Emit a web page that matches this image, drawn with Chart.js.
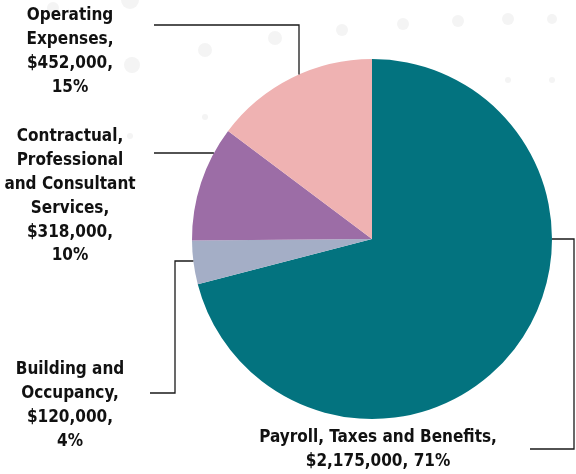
<!DOCTYPE html>
<html lang="en">
    <head>
        <meta charset="UTF-8" />
        <title>Budget Pie</title>
        <style>
            html, body {
                margin: 0;
                padding: 0;
                background: #ffffff;
            }
            .chartBox {
                width: 576px;
                height: 474px;
                position: relative;
            }
        </style>
    </head>
    <body>
        <div class="chartBox">
            <canvas id="pieChart"></canvas>
        </div>

        <script src="https://cdn.jsdelivr.net/npm/chart.js"></script>
        <script>
            // data
            const categories = [
                "Payroll, Taxes and Benefits",
                "Building and Occupancy",
                "Contractual, Professional and Consultant Services",
                "Operating Expenses",
            ];
            const amounts = [2175000, 120000, 318000, 452000];
            const percents = [71, 4, 10, 15];
            const sliceColors = ["#03737f", "#a4aec6", "#9c6da6", "#efb2b2"];

            // label text, one entry per line
            const labelLines = [
                ["Payroll, Taxes and Benefits,", "$2,175,000, 71%"],
                ["Building and", "Occupancy,", "$120,000,", "4%"],
                ["Contractual,", "Professional", "and Consultant", "Services,", "$318,000,", "10%"],
                ["Operating", "Expenses,", "$452,000,", "15%"],
            ];

            // where each label block sits (center x, first line y) and its leader line
            const labelSpots = [
                { x: 378, y: 438, path: [[530, 449], [574, 449], [574, 239]], end: "right" },
                { x: 70, y: 370, path: [[150, 393], [175, 393], [175, 261]], end: "left" },
                { x: 70, y: 137, path: [[154, 153]], end: "left" },
                { x: 70, y: 16, path: [[154, 25], [299, 25]], end: "down" },
            ];

            // faint background dots
            const bgDots = [
                [130, 0, 9], [53, 8, 6], [205, 50, 7], [275, 38, 7], [132, 65, 8],
                [205, 117, 3], [130, 136, 3], [342, 30, 6], [403, 24, 6],
                [458, 21, 6], [508, 19, 6], [552, 19, 5], [508, 80, 3], [552, 80, 3],
            ];

            const dotsPlugin = {
                id: "dots",
                beforeDraw(chart) {
                    const ctx = chart.ctx;
                    ctx.save();
                    ctx.fillStyle = "#f4f4f4";
                    bgDots.forEach(function (d) {
                        ctx.beginPath();
                        ctx.arc(d[0], d[1], d[2], 0, Math.PI * 2);
                        ctx.fill();
                    });
                    ctx.restore();
                },
            };

            // labels + leader lines, the line ends on the pie edge
            const labelPlugin = {
                id: "leaders",
                afterDraw(chart) {
                    const ctx = chart.ctx;
                    const arc = chart.getDatasetMeta(0).data[0];
                    const cx = arc.x;
                    const cy = arc.y;
                    const r = arc.outerRadius;
                    ctx.save();
                    ctx.strokeStyle = "#1a1a1a";
                    ctx.lineWidth = 1.3;
                    labelSpots.forEach(function (spot) {
                        const pts = spot.path.slice();
                        const last = pts[pts.length - 1];
                        if (spot.end === "left") {
                            const dy = last[1] - cy;
                            pts.push([cx - Math.sqrt(r * r - dy * dy), last[1]]);
                        } else if (spot.end === "right") {
                            const dy = last[1] - cy;
                            pts.push([cx + Math.sqrt(r * r - dy * dy), last[1]]);
                        } else {
                            const dx = last[0] - cx;
                            pts.push([last[0], cy - Math.sqrt(r * r - dx * dx)]);
                        }
                        ctx.beginPath();
                        ctx.moveTo(pts[0][0], pts[0][1]);
                        for (let i = 1; i < pts.length; i++) {
                            ctx.lineTo(pts[i][0], pts[i][1]);
                        }
                        ctx.stroke();
                    });

                    ctx.fillStyle = "#111111";
                    ctx.font = "bold 17px 'DejaVu Sans Condensed', 'DejaVu Sans'";
                    ctx.textAlign = "center";
                    ctx.textBaseline = "middle";
                    labelLines.forEach(function (lines, i) {
                        const spot = labelSpots[i];
                        lines.forEach(function (line, j) {
                            ctx.fillText(line, spot.x, spot.y + j * 23.8);
                        });
                    });
                    ctx.restore();
                },
            };

            const pie_config = {
                type: "pie",
                data: {
                    labels: categories,
                    datasets: [
                        {
                            data: amounts,
                            backgroundColor: sliceColors,
                            borderWidth: 0,
                        },
                    ],
                },
                options: {
                    responsive: true,
                    maintainAspectRatio: false,
                    animation: false,
                    layout: {
                        padding: { left: 192, right: 24, top: 59, bottom: 55 },
                    },
                    plugins: {
                        legend: { display: false },
                        tooltip: { enabled: false },
                    },
                },
                plugins: [dotsPlugin, labelPlugin],
            };

            // render the chart
            const pieChart = new Chart(document.getElementById("pieChart"), pie_config);
        </script>
    </body>
</html>
